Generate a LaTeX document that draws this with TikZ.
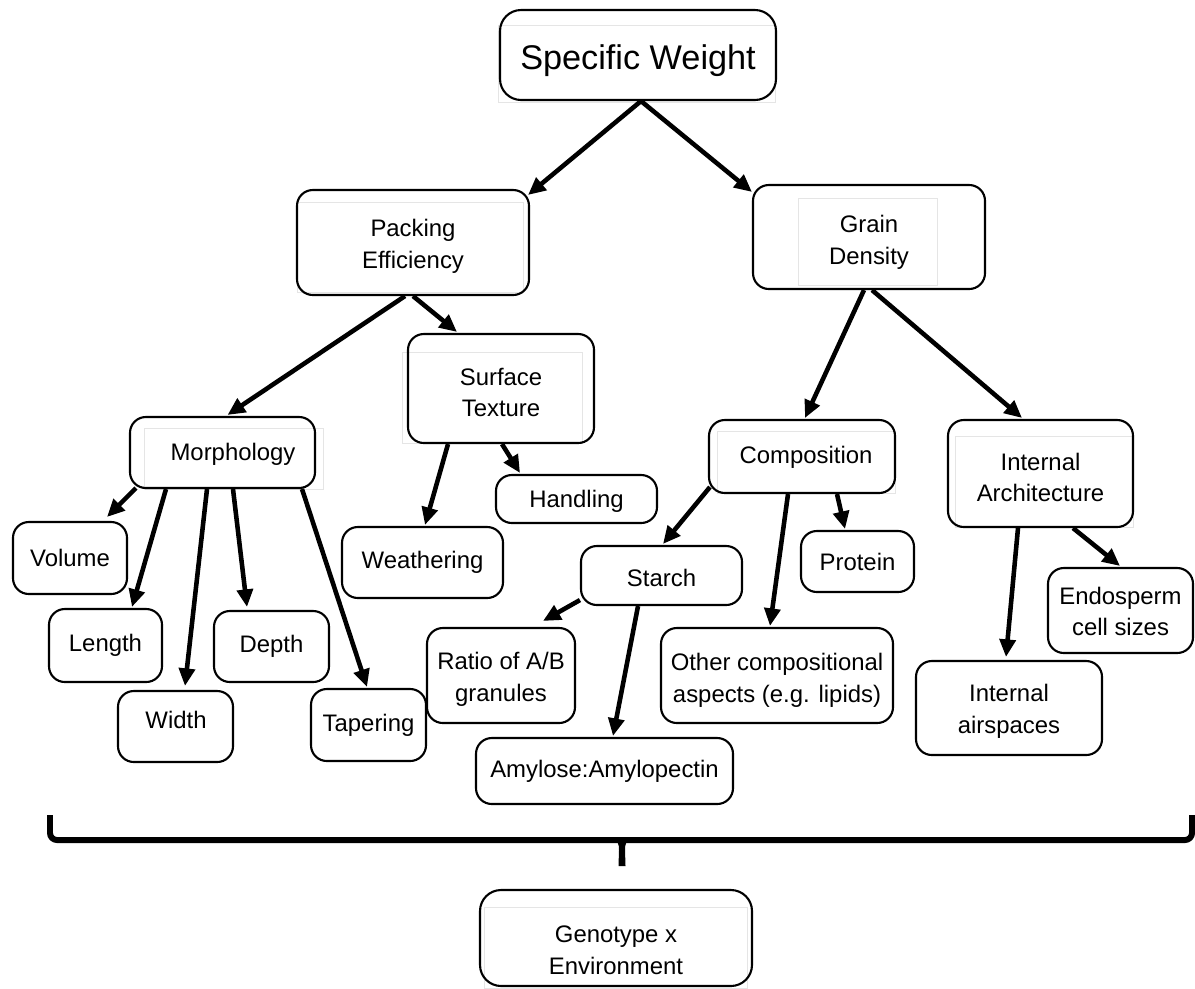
\documentclass[tikz,border=0pt]{standalone}
\usepackage{fontspec}
\setmainfont{Liberation Sans}
\usetikzlibrary{arrows.meta,calc}
\newdimen\px \px=0.02cm
\tikzset{
  box/.style={draw, line width=1.2pt, rounded corners=9pt, inner sep=0pt, align=center,
              font=\fontsize{13.6}{18}\selectfont},
  lbl/.style={inner sep=0pt, align=center, font=\fontsize{13.6}{18}\selectfont},
  arr/.style={line width=2.6pt, -{Triangle[length=10pt,width=9pt]}},
  faint/.style={draw=black!10, line width=0.5pt},
  bracestyle/.style={line width=3.4pt, rounded corners=4pt},
}
\begin{document}
\begin{tikzpicture}[x=0.02cm,y=-0.02cm]
\useasboundingbox (0,0) rectangle (1195,988);
% faint inner frames
\draw[faint] (498,25) rectangle (775,102);
\draw[faint] (297,202) rectangle (523,292);
\draw[faint] (798,198) rectangle (937,285);
\draw[faint] (402,352) rectangle (582,443);
\draw[faint] (144,428) rectangle (323,489);
\draw[faint] (717,431) rectangle (895,493);
\draw[faint] (955,436) rectangle (1133,527);
\draw[faint] (484,907) rectangle (747,988);
% nodes
\node[box, minimum width=276\px, minimum height=90\px, rounded corners=12pt] (sw) at (638,55) {};
\node[lbl, font=\fontsize{19.5}{24}\selectfont] (swtext) at (638,61) {Specific Weight};
\node[box, minimum width=232\px, minimum height=105\px] (pe) at (413,242.5) {};
\node[lbl] (petext) at ($(pe.center)+(0,4)$) {Packing\\Efficiency};
\node[box, minimum width=232\px, minimum height=104\px] (gd) at (869,237) {};
\node[lbl] (gdtext) at ($(gd.center)+(0,5)$) {Grain\\Density};
\node[box, minimum width=186\px, minimum height=109\px] (st) at (501,388.5) {};
\node[lbl] (sttext) at ($(st.center)+(0,4)$) {Surface\\Texture};
\node[box, minimum width=185\px, minimum height=71\px] (morph) at (222.5,452.5) {};
\node[lbl] (morphtext) at (233,454) {Morphology};
\node[box, minimum width=114\px, minimum height=72\px] (vol) at (70,558) {Volume};
\node[box, minimum width=113\px, minimum height=73\px] (len) at (105.5,645.5) {Length};
\node[box, minimum width=115\px, minimum height=71\px] (wid) at (175.5,726.5) {};
\node[lbl] (widtext) at (176,719.5) {Width};
\node[box, minimum width=115\px, minimum height=71\px] (dep) at (271.5,646.5) {Depth};
\node[box, minimum width=115\px, minimum height=72\px] (tap) at (368.5,725) {Tapering};
\node[box, minimum width=161\px, minimum height=71\px] (wea) at (422.5,562.5) {Weathering};
\node[box, minimum width=161\px, minimum height=48\px] (han) at (576.5,499) {};
\node[lbl] (hantext) at ($(han.center)+(0,2)$) {Handling};
\node[box, minimum width=186\px, minimum height=73\px] (comp) at (802,456.5) {};
\node[lbl] (comptext) at ($(comp.center)+(4,1)$) {Composition};
\node[box, minimum width=161\px, minimum height=59\px] (starch) at (661.5,575.5) {};
\node[lbl] (starchtext) at ($(starch.center)+(0,2)$) {Starch};
\node[box, minimum width=113\px, minimum height=61\px] (prot) at (857.5,561.5) {Protein};
\node[box, minimum width=148\px, minimum height=95\px] (ratio) at (501,675.5) {};
\node[lbl] (ratiotext) at ($(ratio.center)+(0,4)$) {Ratio of A/B\\granules};
\node[box, minimum width=257\px, minimum height=66\px] (amyl) at (604.5,771) {Amylose:Amylopectin};
\node[box, minimum width=232\px, minimum height=95\px] (other) at (777,675.5) {};
\node[lbl] (othertext) at ($(other.center)+(0,5)$) {Other compositional\\aspects (e.g. lipids)};
\node[box, minimum width=185\px, minimum height=107\px] (ia) at (1040.5,473.5) {};
\node[lbl] (iatext) at ($(ia.center)+(0,4)$) {Internal\\Architecture};
\node[box, minimum width=145\px, minimum height=85\px] (endo) at (1120.5,610.5) {};
\node[lbl] (endotext) at ($(endo.center)+(0,1)$) {Endosperm\\cell sizes};
\node[box, minimum width=186\px, minimum height=94\px] (air) at (1009,708) {};
\node[lbl] (airtext) at ($(air.center)+(0,3)$) {Internal\\airspaces};
\node[box, minimum width=272\px, minimum height=96\px, rounded corners=12pt] (gxe) at (616,938) {};
\node[lbl] (gxetext) at (616,950) {Genotype x\\Environment};
% connectors
\draw[arr] ($(sw.south)+(3,0)$) -- ($(pe.north east)+(-2,6)$);
\draw[arr] ($(sw.south)+(3,0)$) -- ($(gd.north west)+(0,8)$);
\draw[arr] ($(pe.south)+(-8,0)$) -- ($(morph.north)+(5,-1)$);
\draw[arr] ($(pe.south)+(0,0)$) -- ($(st.north)+(-44,-1)$);
\draw[arr] ($(gd.south)+(-5,0)$) -- ($(comp.north)+(3,-1)$);
\draw[arr] ($(gd.south)+(3,0)$) -- ($(ia.north)+(-18.5,-1)$);
\draw[arr] ($(morph.south west)+(7,-1)$) -- ($(vol.north)+(37,-4)$);
\draw[arr] ($(morph.south)+(-56.5,0)$) -- ($(len.north)+(26.5,-1)$);
\draw[arr] ($(morph.south)+(-15.5,0)$) -- ($(wid.north)+(9.5,-4)$);
\draw[arr] ($(morph.south)+(10.5,0)$) -- ($(dep.north)+(-24.5,-3)$);
\draw[arr] ($(morph.south)+(79.5,0)$) -- ($(tap.north)+(-1.5,-1)$);
\draw[arr] ($(st.south)+(-53,0)$) -- ($(wea.north)+(2.5,-1)$);
\draw[arr] ($(st.south)+(1,0)$) -- ($(han.north)+(-56.5,-1)$);
\draw[arr] ($(comp.south west)+(2,-7)$) -- ($(starch.north)+(1.5,-1)$);
\draw[arr] ($(comp.south)+(-14,0)$) -- ($(other.north)+(-7,-1)$);
\draw[arr] ($(comp.south)+(35,0)$) -- ($(prot.north)+(-12.5,-1)$);
\draw[arr] ($(starch.south west)+(0,-6)$) -- ($(ratio.north)+(42,-6)$);
\draw[arr] ($(starch.south)+(-23.5,0)$) -- ($(amyl.north)+(8.5,-1)$);
\draw[arr] ($(ia.south)+(-22.5,0)$) -- ($(air.north)+(-3,-3)$);
\draw[arr] ($(ia.south)+(32.5,0)$) -- ($(endo.north)+(-0.5,-1)$);
% brace
\draw[bracestyle] (50,815) |- (1192,840) -- (1192,815);
\fill (612,840) .. controls (618,840) and (619,844) .. (619,850) -- (618.5,866) -- (625.5,866)
      -- (625,850) .. controls (625,844) and (626,840) .. (632,840) -- cycle;
\end{tikzpicture}
\end{document}
